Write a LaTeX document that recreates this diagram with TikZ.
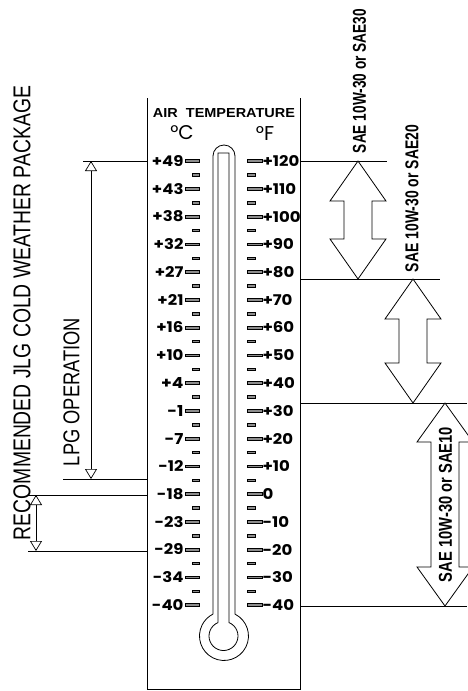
\documentclass[tikz,border=0pt]{standalone}
\usepackage{fontspec}
\setmainfont{Liberation Sans}
\newfontfamily\numfont{Poppins}
\usetikzlibrary{arrows.meta}
\newcommand{\fitto}[3]{\resizebox{#1}{#2}{#3}}
\newcommand{\numlbl}[1]{\scalebox{1.12}[1]{\resizebox{!}{11pt}{\numfont\bfseries #1}}}
\begin{document}
\begin{tikzpicture}[x=1pt,y=-1pt,line width=0.8pt,
  txt/.style={inner sep=0pt,outer sep=0pt},
  tickmark/.style={line width=0.45pt,fill=black!45},
  opentip/.style={{Triangle[open,width=12pt,length=10pt]}-{Triangle[open,width=12pt,length=10pt]}},
  blockarrow/.style={line width=0.8pt,fill=white}]
\useasboundingbox (0,0) rectangle (467,691);
\fill[white] (0,0) rectangle (467,691);

% box (open top)
\draw (147,98) -- (147,689) -- (300,689) -- (300,98);

% header
\node[txt] (air) at (224,113) {\fitto{142pt}{9pt}{\bfseries AIR\ \ TEMPERATURE}};
\node[txt] (degc) at (182,133) {\fitto{!}{14pt}{\numfont °C}};
\node[txt] (degf) at (265,133) {\fitto{!}{14pt}{\numfont °F}};

% scales
\foreach \c [count=\n from 0] in {+49,+43,+38,+32,+27,+21,+16,+10,+4,-1,-7,-12,-18,-23,-29,-34,-40}{
  \pgfmathsetmacro{\yy}{161+\n*27.75}
  \node[txt,anchor=east] (c\n) at (183.5,\yy) {\numlbl{\c}};
  \draw[tickmark] (185,\yy-1.3) rectangle (199,\yy+1.3);
}
\foreach \f [count=\n from 0] in {+120,+110,+100,+90,+80,+70,+60,+50,+40,+30,+20,+10,0,-10,-20,-30,-40}{
  \pgfmathsetmacro{\yy}{161+\n*27.75}
  \node[txt,anchor=west] (f\n) at (262.5,\yy) {\numlbl{\f}};
  \draw[tickmark] (247,\yy-1.3) rectangle (262,\yy+1.3);
}
\foreach \n in {0,...,15}{
  \pgfmathsetmacro{\yy}{161+\n*27.75+13.875}
  \draw[tickmark] (192,\yy-1.3) rectangle (199,\yy+1.3);
  \draw[tickmark] (247,\yy-1.3) rectangle (255,\yy+1.3);
}

% thermometer tube and bulb
\draw (213,614.1) -- (213,156) arc[start angle=180,end angle=360,radius=11]
  -- (235,614.1) arc[start angle=-63.3,end angle=243.3,radius=24.5];
\draw (218,622.6) -- (218,153) -- (229,153) -- (229,622.6)
  arc[start angle=-67.7,end angle=247.7,radius=14.5];

% left reference lines
\coordinate (l1a) at (83,161);  \coordinate (l1b) at (147,161);
\coordinate (l2a) at (63,479);  \coordinate (l2b) at (147,479);
\coordinate (l3a) at (28,495);  \coordinate (l3b) at (147,495);
\coordinate (l4a) at (28,551);  \coordinate (l4b) at (147,551);
\draw (l1a) -- (l1b);
\draw (l2a) -- (l2b);
\draw (l3a) -- (l3b);
\draw (l4a) -- (l4b);
\coordinate (lpgtop) at (91,161); \coordinate (lpgbot) at (91,479);
\draw[opentip,line width=0.7pt] (lpgtop) -- (lpgbot);
\coordinate (cwtop) at (36,495); \coordinate (cwbot) at (36,551);
\draw[opentip,line width=0.7pt] (cwtop) -- (cwbot);

\node[txt,rotate=90] (title) at (22,313) {\fitto{454pt}{17pt}{RECOMMENDED JLG COLD WEATHER PACKAGE}};
\node[txt,rotate=90] (lpg) at (71.5,392) {\fitto{148pt}{16pt}{LPG OPERATION}};

% right reference lines
\coordinate (r1a) at (300,161); \coordinate (r1b) at (387,161);
\coordinate (r2a) at (300,279); \coordinate (r2b) at (440,279);
\coordinate (r3a) at (300,403); \coordinate (r3b) at (467,403);
\coordinate (r4a) at (300,606); \coordinate (r4b) at (467,606);
\draw (r1a) -- (r1b);
\draw (r2a) -- (r2b);
\draw (r3a) -- (r3b);
\draw (r4a) -- (r4b);

% block double arrows
\draw[blockarrow] (358,161) -- (386,201) -- (372,201) -- (372,239) -- (386,239) -- (358,279)
  -- (330,239) -- (344,239) -- (344,201) -- (330,201) -- cycle;
\draw[blockarrow] (413,279) -- (441,319) -- (427,319) -- (427,363) -- (441,363) -- (413,403)
  -- (385,363) -- (399,363) -- (399,319) -- (385,319) -- cycle;
\draw[blockarrow] (445,403) -- (473,442) -- (459,442) -- (459,567) -- (473,567) -- (445,606)
  -- (417,567) -- (431,567) -- (431,442) -- (417,442) -- cycle;

\node[txt,rotate=90] (sae30) at (359.5,81) {\fitto{144pt}{13pt}{\bfseries SAE 10W-30 or SAE30}};
\node[txt,rotate=90] (sae20) at (412,198.5) {\fitto{147pt}{13pt}{\bfseries SAE 10W-30 or SAE20}};
\node[txt,rotate=90] (sae10) at (445.5,504.5) {\fitto{155pt}{13pt}{\bfseries SAE 10W-30 or SAE10}};
\end{tikzpicture}
\end{document}
